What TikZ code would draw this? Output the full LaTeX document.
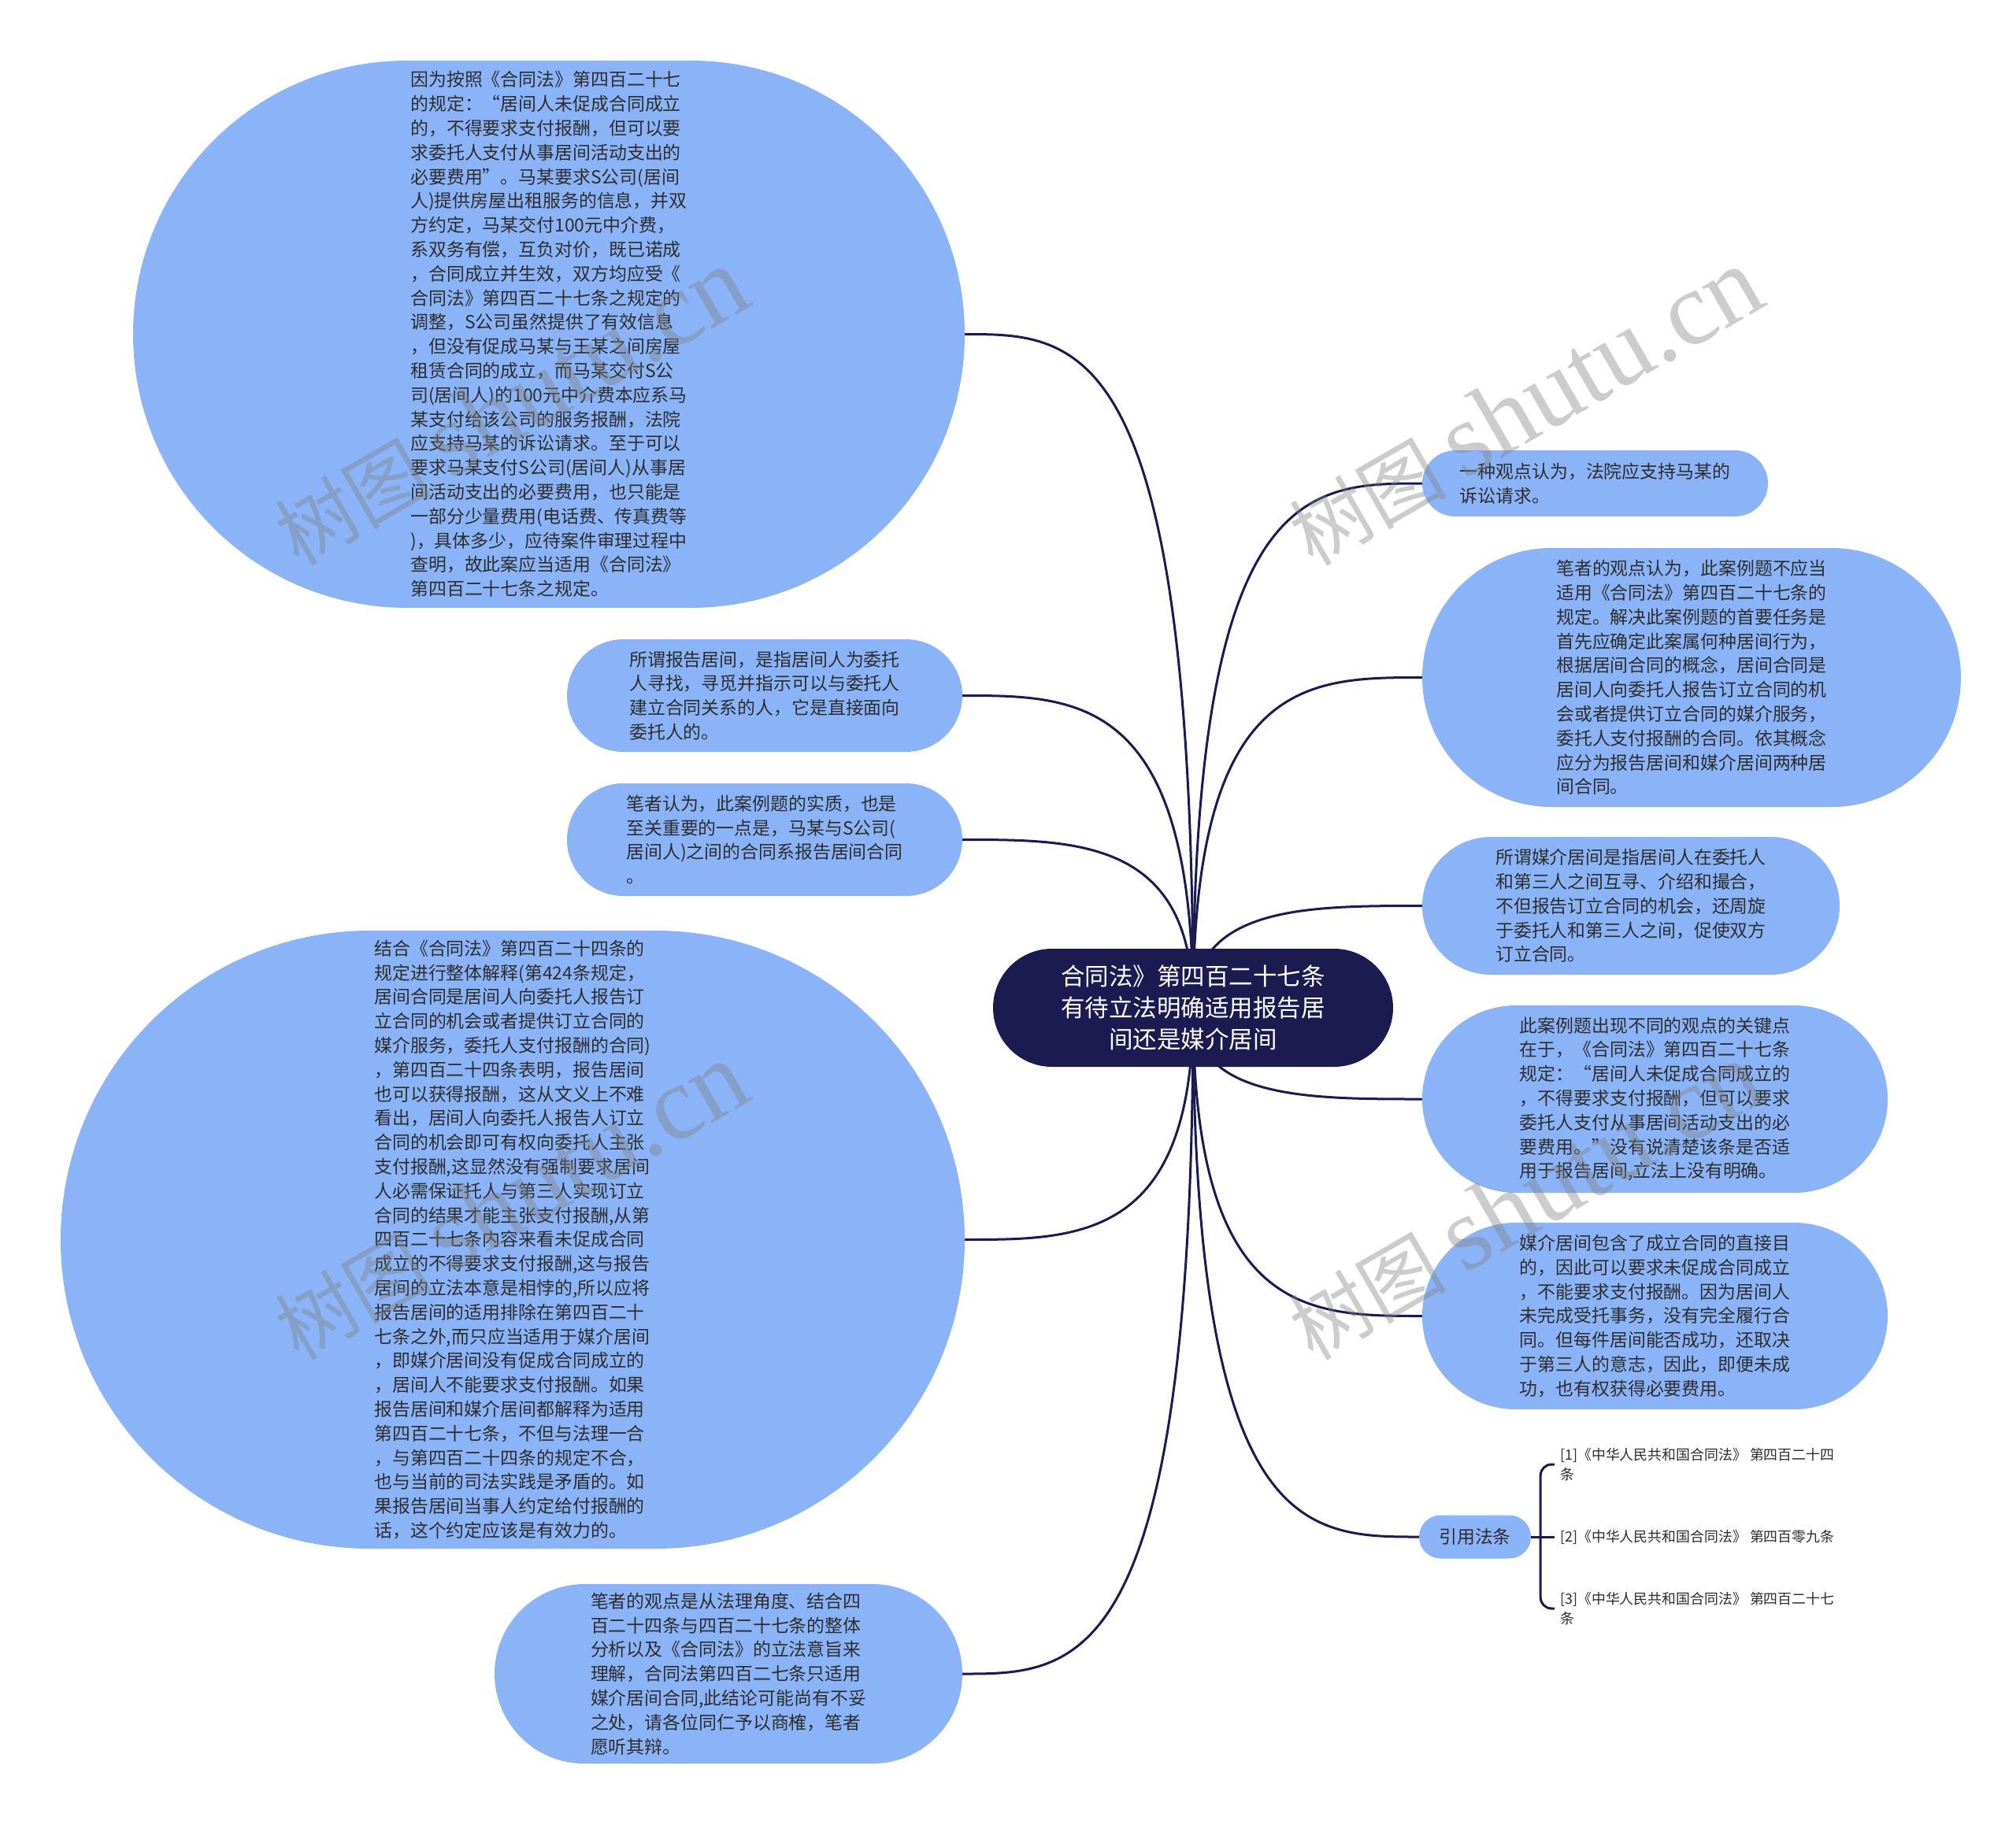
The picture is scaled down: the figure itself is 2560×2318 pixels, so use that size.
\documentclass[tikz,border=0pt]{standalone}
\usepackage{fontspec}
\setmainfont{Noto Sans CJK SC}
\newfontfamily\wmfont{Liberation Serif}
\usetikzlibrary{calc,backgrounds}
\definecolor{hubnavy}{RGB}{27,27,82}
\definecolor{leafblue}{RGB}{139,180,248}
\definecolor{leaftext}{RGB}{45,45,45}
\newcommand{\branch}[1]{\draw[link] (hub.center) .. controls (hub.center |- #1) and ($(#1)!0.5!(hub.center |- #1)$) .. (#1);}

\tikzset{
    pill/.style 2 args={minimum width=#1, minimum height=#2, rounded corners=#2/2},
    leaf/.style={fill=leafblue, text=leaftext, inner sep=0pt, align=left, font=\fontsize{22.9}{30.8}\selectfont},
    hubnode/.style={fill=hubnavy, text=white, inner sep=0pt, align=center, font=\fontsize{30.5}{40}\selectfont},
    reftext/.style={anchor=west, inner xsep=7pt, inner ysep=0pt, align=left, text=leaftext, font=\fontsize{17.9}{24.5}\selectfont},
    link/.style={draw=hubnavy, line width=3pt},
    watermark/.style={rotate=30, text=gray, opacity=0.4, font=\fontsize{100}{100}\selectfont}
}

\begin{document}
\begin{tikzpicture}[x=1pt, y=-1pt]
    \begin{scope}[on background layer]
        \fill[white] (0,0) rectangle (2560,2318);
    \end{scope}
    \useasboundingbox (0,0) rectangle (2560,2318);

    % centre
    \node[hubnode, pill={508}{150}] (hub) at (1515,1280) {合同法》第四百二十七条\\有待立法明确适用报告居\\间还是媒介居间};

    % left side
    \node[leaf, pill={1056}{695}] (l1) at (697,424.5) {因为按照《合同法》第四百二十七\\的规定：“居间人未促成合同成立\\的，不得要求支付报酬，但可以要\\求委托人支付从事居间活动支出的\\必要费用”。马某要求S公司(居间\\人)提供房屋出租服务的信息，并双\\方约定，马某交付100元中介费，\\系双务有偿，互负对价，既已诺成\\，合同成立并生效，双方均应受《\\合同法》第四百二十七条之规定的\\调整，S公司虽然提供了有效信息\\，但没有促成马某与王某之间房屋\\租赁合同的成立，而马某交付S公\\司(居间人)的100元中介费本应系马\\某支付给该公司的服务报酬，法院\\应支持马某的诉讼请求。至于可以\\要求马某支付S公司(居间人)从事居\\间活动支出的必要费用，也只能是\\一部分少量费用(电话费、传真费等\\)，具体多少，应待案件审理过程中\\查明，故此案应当适用《合同法》\\第四百二十七条之规定。};
    \node[leaf, pill={502}{143}] (l2) at (971,883.5) {所谓报告居间，是指居间人为委托\\人寻找，寻觅并指示可以与委托人\\建立合同关系的人，它是直接面向\\委托人的。};
    \node[leaf, pill={502}{143}] (l3) at (971,1066.5) {笔者认为，此案例题的实质，也是\\至关重要的一点是，马某与S公司(\\居间人)之间的合同系报告居间合同\\。};
    \node[leaf, pill={1148}{785}] (l4) at (651,1574.5) {结合《合同法》第四百二十四条的\\规定进行整体解释(第424条规定，\\居间合同是居间人向委托人报告订\\立合同的机会或者提供订立合同的\\媒介服务，委托人支付报酬的合同)\\，第四百二十四条表明，报告居间\\也可以获得报酬，这从文义上不难\\看出，居间人向委托人报告人订立\\合同的机会即可有权向委托人主张\\支付报酬,这显然没有强制要求居间\\人必需保证托人与第三人实现订立\\合同的结果才能主张支付报酬,从第\\四百二十七条内容来看未促成合同\\成立的不得要求支付报酬,这与报告\\居间的立法本意是相悖的,所以应将\\报告居间的适用排除在第四百二十\\七条之外,而只应当适用于媒介居间\\，即媒介居间没有促成合同成立的\\，居间人不能要求支付报酬。如果\\报告居间和媒介居间都解释为适用\\第四百二十七条，不但与法理一合\\，与第四百二十四条的规定不合，\\也与当前的司法实践是矛盾的。如\\果报告居间当事人约定给付报酬的\\话，这个约定应该是有效力的。};
    \node[leaf, pill={594}{228}] (l5) at (925,2126) {笔者的观点是从法理角度、结合四\\百二十四条与四百二十七条的整体\\分析以及《合同法》的立法意旨来\\理解，合同法第四百二七条只适用\\媒介居间合同,此结论可能尚有不妥\\之处，请各位同仁予以商榷，笔者\\愿听其辩。};

    % right side
    \node[leaf, pill={439}{84}] (r1) at (2025.5,614) {一种观点认为，法院应支持马某的\\诉讼请求。};
    \node[leaf, pill={684}{329}] (r2) at (2148,860.5) {笔者的观点认为，此案例题不应当\\适用《合同法》第四百二十七条的\\规定。解决此案例题的首要任务是\\首先应确定此案属何种居间行为，\\根据居间合同的概念，居间合同是\\居间人向委托人报告订立合同的机\\会或者提供订立合同的媒介服务，\\委托人支付报酬的合同。依其概念\\应分为报告居间和媒介居间两种居\\间合同。};
    \node[leaf, pill={530}{175}] (r3) at (2071,1150.5) {所谓媒介居间是指居间人在委托人\\和第三人之间互寻、介绍和撮合，\\不但报告订立合同的机会，还周旋\\于委托人和第三人之间，促使双方\\订立合同。};
    \node[leaf, pill={591}{238}] (r4) at (2101.5,1396) {此案例题出现不同的观点的关键点\\在于，《合同法》第四百二十七条\\规定：“居间人未促成合同成立的\\，不得要求支付报酬，但可以要求\\委托人支付从事居间活动支出的必\\要费用。”没有说清楚该条是否适\\用于报告居间,立法上没有明确。};
    \node[leaf, pill={591}{237}] (r5) at (2101.5,1671.5) {媒介居间包含了成立合同的直接目\\的，因此可以要求未促成合同成立\\，不能要求支付报酬。因为居间人\\未完成受托事务，没有完全履行合\\同。但每件居间能否成功，还取决\\于第三人的意志，因此，即便未成\\功，也有权获得必要费用。};
    \node[leaf, pill={142}{55}, align=center] (fa) at (1873,1952) {引用法条};

    % cited articles
    \node[reftext] (ref1) at (1974,1860) {[1]《中华人民共和国合同法》 第四百二十四\\条};
    \node[reftext] (ref2) at (1974,1952) {[2]《中华人民共和国合同法》 第四百零九条};
    \node[reftext] (ref3) at (1974,2043) {[3]《中华人民共和国合同法》 第四百二十七\\条};
    \coordinate (fork) at ($(fa.east)+(12,0)$);

    \begin{scope}[on background layer]
        \foreach \leafend in {l1.east, l2.east, l3.east, l4.east, l5.east, r1.west, r2.west, r3.west, r4.west, r5.west, fa.west}
            \branch{\leafend}
        \draw[link] (fa.east) -- (ref2.west);
        \draw[link, rounded corners=14pt] (fork) |- (ref1.west);
        \draw[link, rounded corners=14pt] (fork) |- (ref3.west);
    \end{scope}

    % watermark
    \foreach \wx/\wy in {648/517, 1936/517, 648/1526, 1936/1526}
        \node[watermark] at (\wx,\wy) {树图 {\wmfont\fontsize{133}{133}\selectfont shutu.cn}};
\end{tikzpicture}
\end{document}
